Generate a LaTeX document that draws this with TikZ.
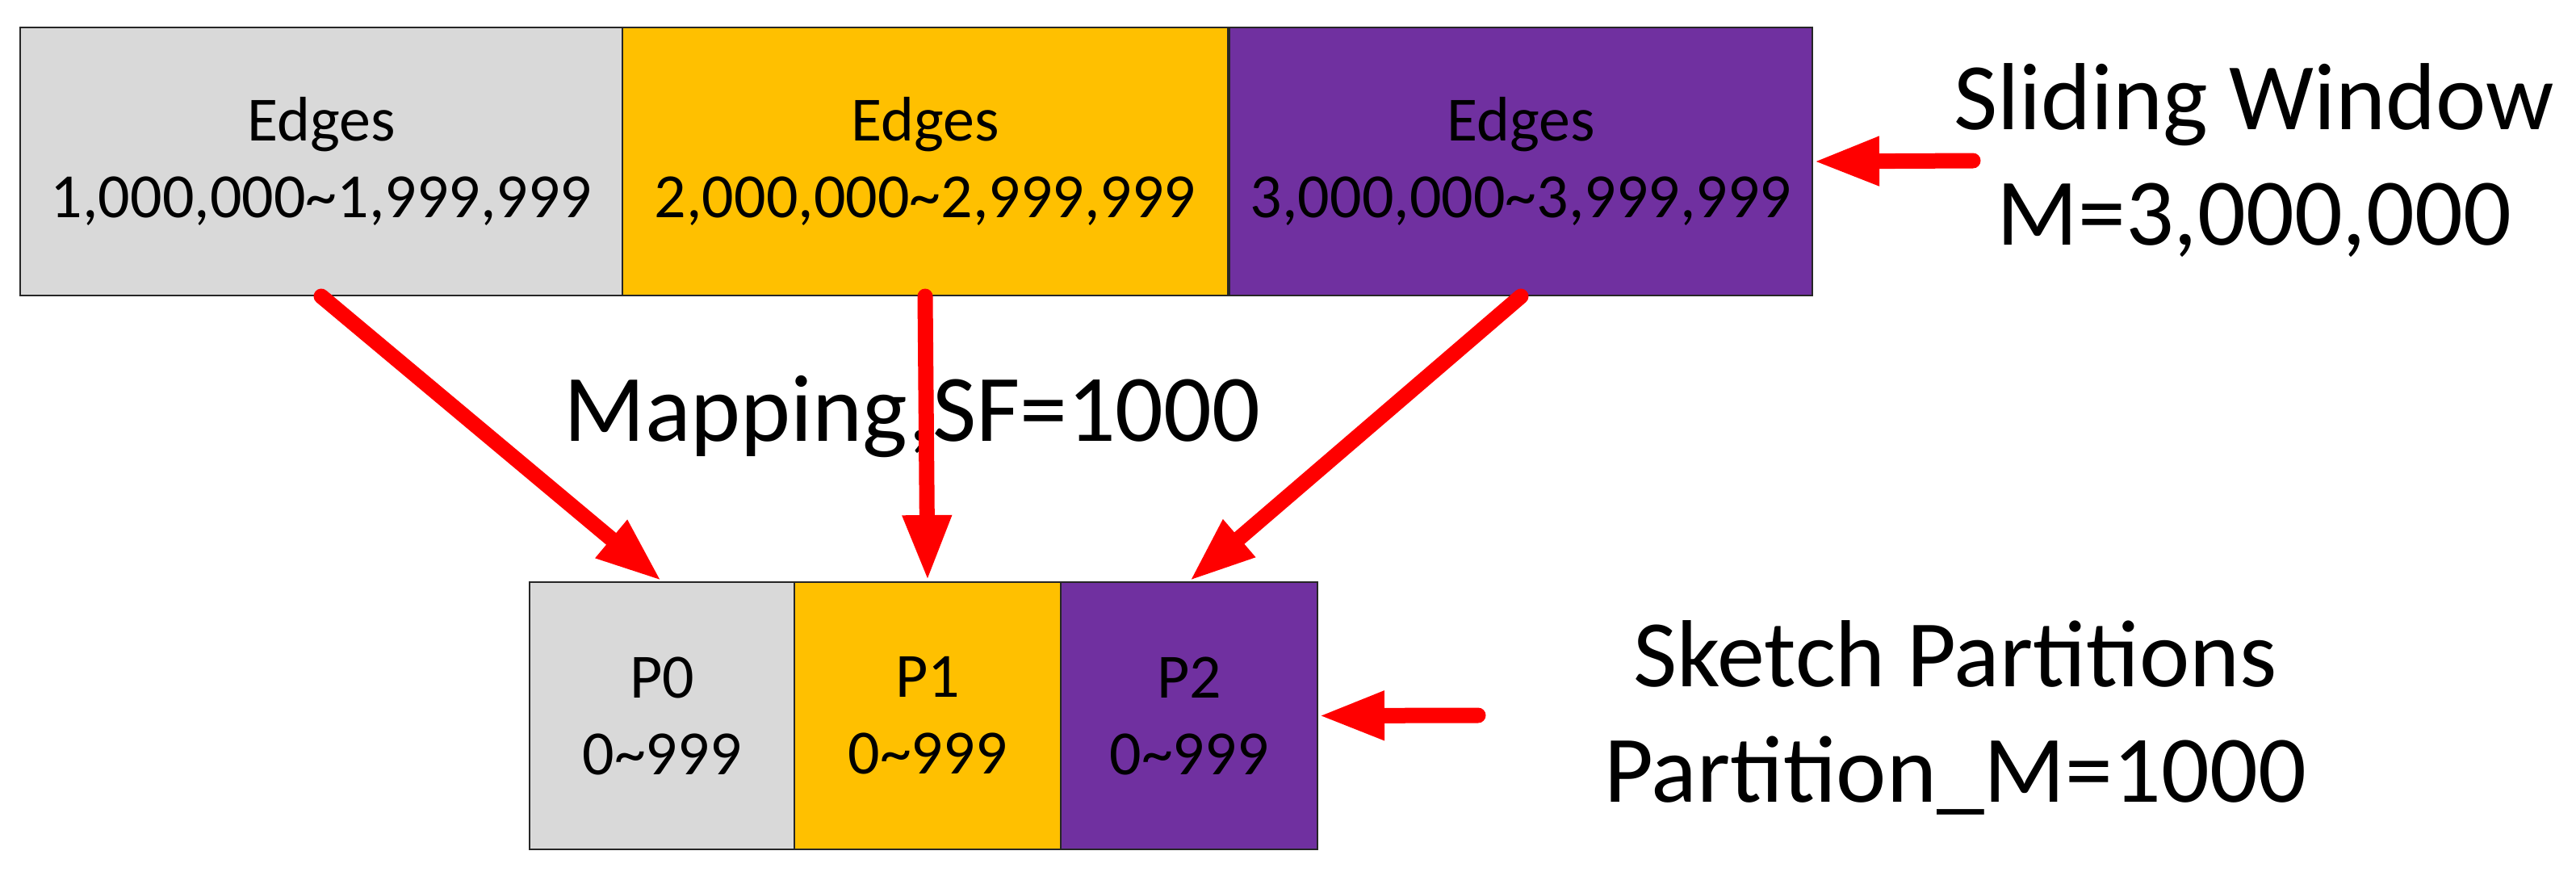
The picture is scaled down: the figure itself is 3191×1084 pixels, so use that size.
\documentclass[tikz,border=0pt]{standalone}
\usepackage{fontspec}
\setmainfont{Carlito}
\usetikzlibrary{arrows.meta}
\definecolor{boxgray}{HTML}{D9D9D9}
\definecolor{boxyellow}{HTML}{FFC000}
\definecolor{boxpurple}{HTML}{7030A0}
\definecolor{arrowred}{HTML}{FF0000}
\begin{document}
\begin{tikzpicture}[x=0.5pt,y=-0.5pt,
  cell/.style={draw=black!85, line width=1pt, inner sep=0pt, align=center,
    font=\fontsize{39}{47.5}\selectfont, anchor=north west},
  bigtext/.style={align=center, font=\fontsize{59}{71.5}\selectfont},
  redarrow/.style={draw=arrowred, line width=9.5pt, line cap=round,
    -{Triangle[length=41pt,width=28pt]}}]
\useasboundingbox (0,0) rectangle (3191,1084);
% sliding window cells
\node[cell, fill=boxgray, minimum width=373pt, minimum height=166pt] (e1) at (24,33)
  {Edges\\1,000,000\textasciitilde 1,999,999};
\node[cell, fill=boxyellow, minimum width=375pt, minimum height=166pt] (e2) at (770,33)
  {Edges\\2,000,000\textasciitilde 2,999,999};
\node[cell, fill=boxpurple, minimum width=361pt, minimum height=166pt] (e3) at (1522,33)
  {Edges\\3,000,000\textasciitilde 3,999,999};
% sketch partitions
\node[cell, fill=boxgray, minimum width=164pt, minimum height=165.5pt] (p0) at (655,720)
  {P0\\0\textasciitilde 999};
\node[cell, fill=boxyellow, minimum width=165pt, minimum height=165.5pt] (p1) at (983,720)
  {P1\\0\textasciitilde 999};
\node[cell, fill=boxpurple, minimum width=159pt, minimum height=165.5pt] (p2) at (1313,720)
  {P2\\0\textasciitilde 999};
% labels
\node[bigtext] (sw) at (2792,199) {Sliding Window\\M=3,000,000};
\node[bigtext] (sp) at (2422,889) {Sketch Partitions\\Partition\_M=1000};
\node[bigtext] (map) at (1130,516) {Mapping,SF=1000};
% arrows
\coordinate (swtail) at (2444,199);
\coordinate (sptail) at (1831,886);
\draw[redarrow] (e1.south) -- (p0.north);
\draw[redarrow] (e2.south) -- (p1.north);
\draw[redarrow] (e3.south) -- (p2.north);
\draw[redarrow] (swtail) -- (e3.east);
\draw[redarrow] (sptail) -- (p2.east);
\end{tikzpicture}
\end{document}
